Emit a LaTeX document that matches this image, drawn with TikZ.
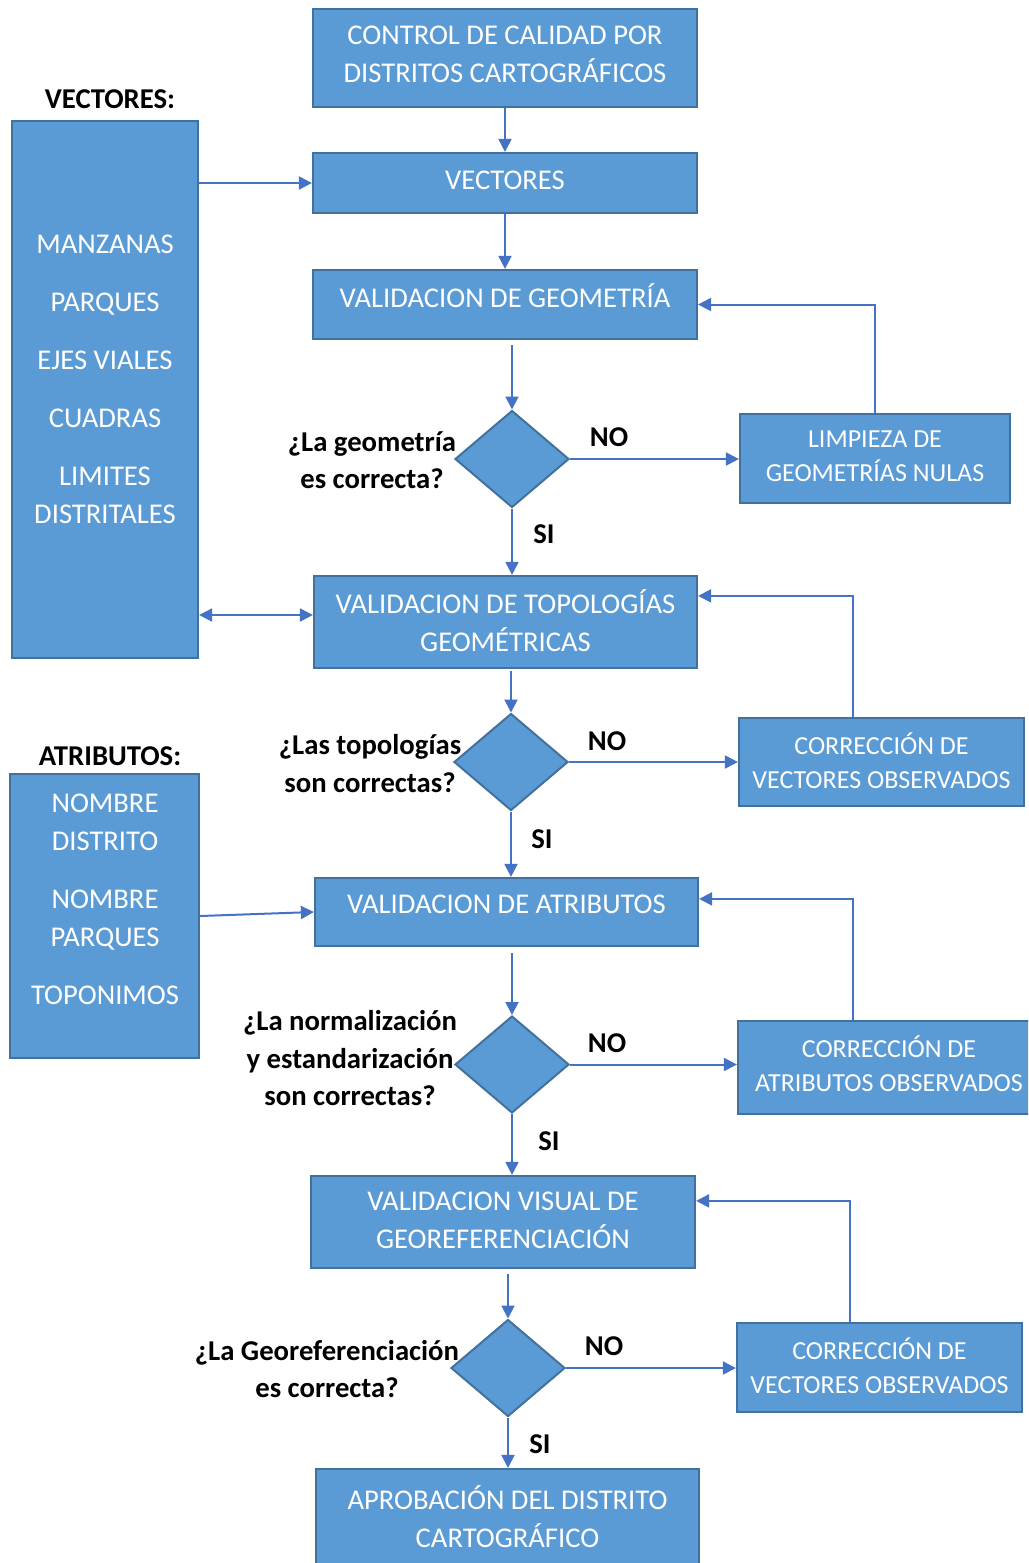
\documentclass[tikz,border=0pt]{standalone}
\usepackage{fontspec}
\setmainfont{Carlito}
\usetikzlibrary{arrows.meta,shapes.geometric,calc}
\definecolor{boxfill}{HTML}{5B9BD5}
\definecolor{boxline}{HTML}{41719C}
\definecolor{arrcol}{HTML}{4472C4}
\tikzset{
  box/.style={draw=boxline, fill=boxfill, line width=2.2pt, inner sep=0pt},
  dia/.style={diamond, draw=boxline, fill=boxfill, line width=2pt, inner sep=0pt, minimum width=114pt, minimum height=97pt},
  btext/.style={text=white, font=\fontsize{28.6}{38}\selectfont, align=center, inner sep=0pt},
  ctext/.style={text=white, font=\fontsize{26}{34}\selectfont, align=center, inner sep=0pt},
  qtext/.style={text=black, font=\bfseries\fontsize{28.7}{37.5}\selectfont, align=center, inner sep=0pt},
  arr/.style={draw=arrcol, line width=2pt, -{Triangle[length=13pt,width=13pt]}},
  darr/.style={draw=arrcol, line width=2pt, {Triangle[length=13pt,width=13pt]}-{Triangle[length=13pt,width=13pt]}},
  fb/.style={draw=arrcol, line width=2pt, -{Triangle[length=13pt,width=13pt]}}
}
\begin{document}
\begin{tikzpicture}[x=1pt,y=-1pt]
\clip (0,0) rectangle (1028,1563);
\fill[white] (0,0) rectangle (1028,1563);

% main column boxes
\node[box, minimum width=384pt, minimum height=98pt] (b1) at (505,58) {};
\node[btext] (t1) at (505,54) {CONTROL DE CALIDAD POR\\DISTRITOS CARTOGRÁFICOS};
\node[box, minimum width=384pt, minimum height=60pt] (b2) at (505,183) {};
\node[btext] (t2) at (505,180) {VECTORES};
\node[box, minimum width=384pt, minimum height=69pt] (b3) at (505,304.5) {};
\node[btext] (t3) at (505,296) {VALIDACION DE GEOMETRÍA};
\node[box, minimum width=383pt, minimum height=92pt] (b4) at (505.5,622) {};
\node[btext] (t4) at (505.5,620.5) {VALIDACION DE TOPOLOGÍAS\\GEOMÉTRICAS};
\node[box, minimum width=383pt, minimum height=68pt] (b5) at (506.5,912) {};
\node[btext] (t5) at (506.5,904) {VALIDACION DE ATRIBUTOS};
\node[box, minimum width=384pt, minimum height=92pt] (b6) at (503,1222) {};
\node[btext] (t6) at (503,1220.5) {VALIDACION VISUAL DE\\GEOREFERENCIACIÓN};
\node[box, minimum width=383pt, minimum height=110pt] (b7) at (507.5,1524) {};
\node[btext] (t7) at (507.5,1516.5) {APROBACIÓN DEL DISTRITO\\CARTOGRÁFICO};

% left panels
\node[qtext] (lv) at (110,99) {VECTORES:};
\node[box, minimum width=186pt, minimum height=537pt] (vec) at (105,389.5) {};
\node[btext] (tv) at (105,379.5) {MANZANAS\\[20pt]PARQUES\\[20pt]EJES VIALES\\[20pt]CUADRAS\\[20pt]LIMITES\\DISTRITALES};
\node[qtext] (la) at (110,756) {ATRIBUTOS:};
\node[box, minimum width=189pt, minimum height=284pt] (attr) at (104.5,916) {};
\node[btext] (ta) at (105,899) {NOMBRE\\DISTRITO\\[20pt]NOMBRE\\PARQUES\\[20pt]TOPONIMOS};

% decisions
\node[dia] (d1) at (512,459) {};
\node[dia] (d2) at (511,762) {};
\node[dia] (d3) at (512,1064.5) {};
\node[dia] (d4) at (508,1368) {};

\node[qtext] (q1) at (372,460) {¿La geometría\\es correcta?};
\node[qtext] (q2) at (370,763.5) {¿Las topologías\\son correctas?};
\node[qtext] (q3) at (350,1058.5) {¿La normalización\\y estandarización\\son correctas?};
\node[qtext] (q4) at (327,1369) {¿La Georeferenciación\\es correcta?};

% correction boxes
\node[box, minimum width=270pt, minimum height=89pt] (c1) at (875,458.5) {};
\node[ctext] (tc1) at (875,456) {LIMPIEZA DE\\GEOMETRÍAS NULAS};
\node[box, minimum width=285pt, minimum height=88pt] (c2) at (881.5,762) {};
\node[ctext] (tc2) at (881.5,760.5) {CORRECCIÓN DE\\VECTORES OBSERVADOS};
\node[box, minimum width=302pt, minimum height=93pt] (c3) at (889,1067.5) {};
\node[ctext] (tc3) at (889,1063.5) {CORRECCIÓN DE\\ATRIBUTOS OBSERVADOS};
\node[box, minimum width=285pt, minimum height=89pt] (c4) at (879.5,1367.5) {};
\node[ctext] (tc4) at (879.5,1365.5) {CORRECCIÓN DE\\VECTORES OBSERVADOS};

% yes/no labels
\node[qtext] (n1) at (609,437) {NO};
\node[qtext] (n2) at (607,741) {NO};
\node[qtext] (n3) at (607,1043) {NO};
\node[qtext] (n4) at (604,1346) {NO};
\node[qtext] (s1) at (544,534) {SI};
\node[qtext] (s2) at (542,839) {SI};
\node[qtext] (s3) at (549,1141) {SI};
\node[qtext] (s4) at (540,1444) {SI};

% main flow
\draw[arr] (b1.south) -- (b2.north);
\draw[arr] (b2.south) -- (b3.north);
\draw[arr, shorten <=5pt] (b3.south -| d1.north) -- (d1.north);
\draw[arr] (d1.south) -- (d1.south |- b4.north);
\draw[arr, shorten <=2pt] (b4.south -| d2.north) -- (d2.north);
\draw[arr] (d2.south) -- (d2.south |- b5.north);
\draw[arr, shorten <=6pt] (b5.south -| d3.north) -- (d3.north);
\draw[arr] (d3.south) -- (d3.south |- b6.north);
\draw[arr, shorten <=5pt] (b6.south -| d4.north) -- (d4.north);
\draw[arr] (d4.south) -- (d4.south |- b7.north);

% NO branches
\draw[arr] (d1.east) -- (d1.east -| c1.west);
\draw[arr] (d2.east) -- (d2.east -| c2.west);
\draw[arr] (d3.east) -- (d3.east -| c3.west);
\draw[arr] (d4.east) -- (d4.east -| c4.west);

% feedback
\draw[fb] (c1.north) |- (b3.east);
\draw[fb] ([xshift=-28.5pt]c2.north) |- ([yshift=-21pt]b4.north east);
\draw[fb] ([xshift=-36pt]c3.north) |- ([yshift=-22pt]b5.north east);
\draw[fb] ([xshift=-29.5pt]c4.north) |- ([yshift=-26pt]b6.north east);

% inputs
\coordinate (b4in) at ([yshift=7pt]b4.west);
\draw[arr] (vec.east |- b2.west) -- (b2.west);
\draw[darr] (vec.east |- b4in) -- (b4in);
\draw[arr] (attr.east) -- (b5.west);
\end{tikzpicture}
\end{document}
